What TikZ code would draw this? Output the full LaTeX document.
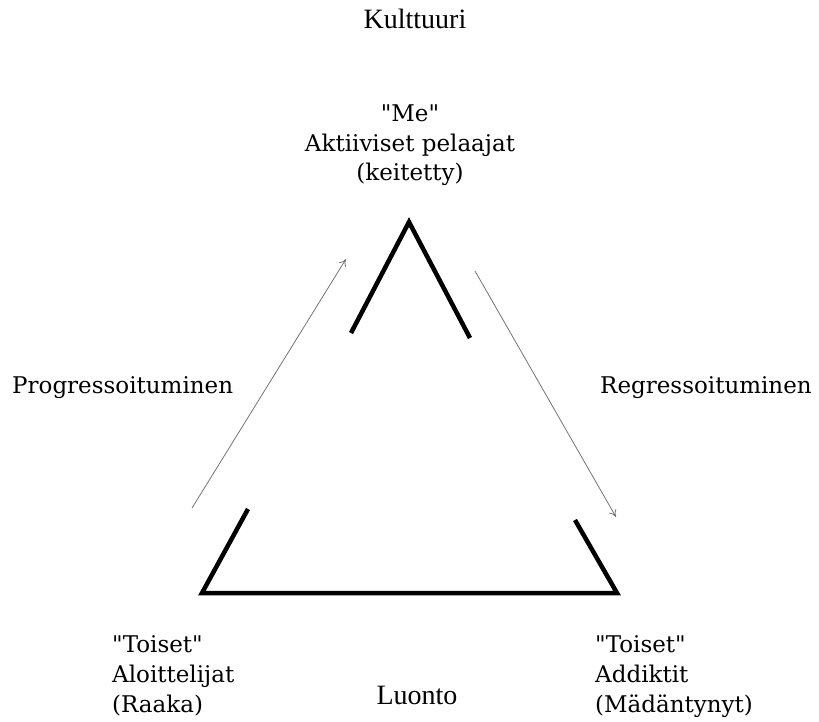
\documentclass[tikz,border=0pt]{standalone}
\usepackage{fontspec}
\setmainfont{Liberation Serif}
\newfontfamily\slabfont{DejaVu Serif}
\usetikzlibrary{arrows.meta}
\begin{document}
\begin{tikzpicture}[x=1pt,y=-1pt,
  times/.style={font=\fontsize{28}{30}\selectfont, inner sep=0pt, anchor=base},
  slab/.style={font=\slabfont\fontsize{23}{26}\selectfont, inner sep=0pt, anchor=base},
  side/.style={line width=4.5pt, line join=miter, line cap=butt},
  flow/.style={draw=black!55, line width=0.8pt, -{To[length=7pt,width=8pt]}}]
\useasboundingbox (0,0) rectangle (819,721);
% triangle corners and break points
\coordinate (apex) at (409,222);
\coordinate (lt) at (351,333);
\coordinate (rt) at (470,338);
\coordinate (lb) at (248,509);
\coordinate (bl) at (202,593);
\coordinate (br) at (617,593);
\coordinate (rb) at (575,520);
\draw[side] (lt) -- (apex) -- (rt);
\draw[side] (lb) -- (bl) -- (br) -- (rb);
% arrows
\coordinate (pa) at (192,508);
\coordinate (pb) at (346,259);
\coordinate (ra) at (475,271);
\coordinate (rbb) at (616,517);
\draw[flow] (pa) -- (pb);
\draw[flow] (ra) -- (rbb);
% texts
\node[times] (kult) at (415,28) {Kulttuuri};
\node[times] (luonto) at (417,704) {Luonto};
\node[slab] (me1) at (410,121) {"Me"};
\node[slab] (me2) at (410,151) {Aktiiviset pelaajat};
\node[slab] (me3) at (410,180) {(keitetty)};
\node[slab,anchor=base west] (prog) at (12,393) {Progressoituminen};
\node[slab,anchor=base west] (reg) at (600,393) {Regressoituminen};
\node[slab,anchor=base west] (l1) at (112,652) {"Toiset"};
\node[slab,anchor=base west] (l2) at (112,682) {Aloittelijat};
\node[slab,anchor=base west] (l3) at (112,712) {(Raaka)};
\node[slab,anchor=base west] (r1) at (595,652) {"Toiset"};
\node[slab,anchor=base west] (r2) at (595,682) {Addiktit};
\node[slab,anchor=base west] (r3) at (595,712) {(Mädäntynyt)};
\end{tikzpicture}
\end{document}
